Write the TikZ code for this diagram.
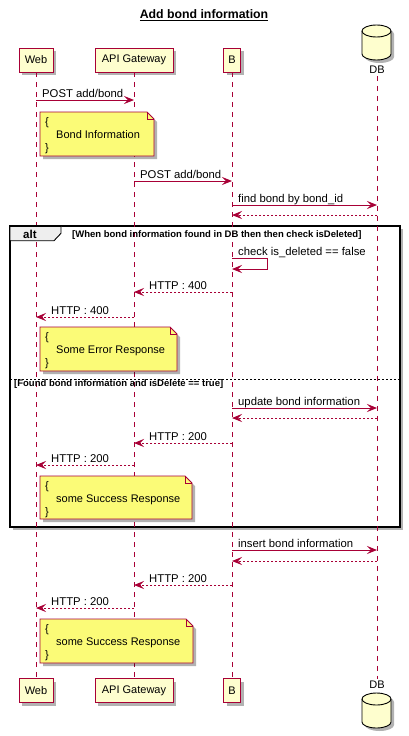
\documentclass[tikz,border=0pt]{standalone}
\usepackage{fontspec}
\setmainfont{Liberation Sans}
\usetikzlibrary{arrows.meta,shadows}
\definecolor{crim}{HTML}{A80036}
\definecolor{pfill}{HTML}{FEFECE}
\definecolor{nfill}{HTML}{FBFB77}
\definecolor{tabfill}{HTML}{EEEEEE}
\newcommand\Msg[5]{%
  \path (#2 |- 0,#4) coordinate (#1a) (#3 |- 0,#4) coordinate (#1b);
  \draw[#5] (#1a) -- (#1b);}
\newcommand\Note[6]{%
  \filldraw[notebox] (#2,#3) -- ({#4-7},#3) -- (#4,{#3+7}) -- (#4,#5) -- (#2,#5) -- cycle;
  \draw[draw=crim, line width=0.8pt] ({#4-7},#3) -- ({#4-7},{#3+7}) -- (#4,{#3+7});
  \node[lbl,anchor=base west] (#1a) at (45,{#3+13}) {\{};
  \node[lbl,anchor=base west] (#1b) at (56,{#3+26}) {#6};
  \node[lbl,anchor=base west] (#1c) at (45,{#3+39}) {\}};}
\begin{document}
\begin{tikzpicture}[x=1pt,y=-1pt,
  every node/.style={font=\fontsize{11}{13}\selectfont},
  shad/.style={drop shadow={shadow xshift=3pt,shadow yshift=-3pt,opacity=0.3,fill=black}},
  part/.style={draw=crim, fill=pfill, line width=0.9pt, minimum height=24pt, inner sep=0pt, shad},
  life/.style={draw=crim, line width=1pt, dash pattern=on 5pt off 5pt},
  msg/.style={draw=crim, line width=0.9pt, -{Stealth[length=10pt,width=8pt,inset=4pt]}},
  ret/.style={msg, dash pattern=on 2pt off 2pt},
  lbl/.style={inner sep=0pt},
  mlbl/.style={lbl, anchor=base west, font=\fontsize{11.3}{13}\selectfont},
  notebox/.style={draw=crim, fill=nfill, line width=0.8pt, shad},
  guard/.style={lbl, anchor=base west, font=\bfseries\fontsize{9.5}{11}\selectfont}]
\useasboundingbox (0,0) rectangle (408,736);
% title
\node[lbl, font=\bfseries\fontsize{12.3}{14}\selectfont, anchor=base] (title) at (204,18.5) {\underline{Add bond information}};
% alt frame
\filldraw[draw=black, fill=white, line width=1.5pt, shad] (10,226) rectangle (400,527);
% participants
\node[part, minimum width=34pt] (webT) at (36,60) {Web};
\node[part, minimum width=78pt] (apiT) at (134,60) {API Gateway};
\node[part, minimum width=17pt] (bT) at (232,60) {B};
\node[part, minimum width=34pt] (webB) at (36,690.5) {Web};
\node[part, minimum width=78pt] (apiB) at (134,690.5) {API Gateway};
\node[part, minimum width=17pt] (bB) at (232,690.5) {B};
% databases
\filldraw[draw=black, fill=pfill, line width=0.9pt, shad] (362,31) -- (362,54) arc[start angle=180,end angle=0,x radius=14.5,y radius=6] -- (391,31) arc[start angle=0,end angle=-180,x radius=14.5,y radius=6] -- cycle;
\draw[line width=0.9pt] (362,31) arc[start angle=180,end angle=0,x radius=14.5,y radius=6];
\node[lbl] (dbT) at (377,70) {DB};
\filldraw[draw=black, fill=pfill, line width=0.9pt, shad] (362,699) -- (362,722) arc[start angle=180,end angle=0,x radius=14.5,y radius=6] -- (391,699) arc[start angle=0,end angle=-180,x radius=14.5,y radius=6] -- cycle;
\draw[line width=0.9pt] (362,699) arc[start angle=180,end angle=0,x radius=14.5,y radius=6];
\node[lbl] (dbB) at (377,685) {DB};
% lifelines
\draw[life] (webT.south) -- (webB.north);
\draw[life] (apiT.south) -- (apiB.north);
\draw[life] (bT.south) -- (bB.north);
\draw[life] ([yshift=-2pt]dbT.south) -- ([yshift=2pt]dbB.north);
% alt tab and guards
\filldraw[draw=black, fill=tabfill, line width=0.9pt] (10,226) -- (61,226) -- (61,233.3) -- (54,240.7) -- (10,240.7) -- cycle;
\draw[black, line width=1.5pt] (10,226) -- (61,226);
\node[lbl, anchor=base west, font=\bfseries\fontsize{11.5}{13}\selectfont] (altlbl) at (23,238.5) {alt};
\node[guard] (g1) at (72,237.3) {[When bond information found in DB then then check isDeleted]};
\draw[black, line width=0.7pt, dash pattern=on 2pt off 2pt] (10,379) coordinate (elseA) -- (400,379) coordinate (elseB);
\node[guard] (g2) at (14,386.7) {[Found bond information and isDelete == true]};
% messages
\Msg{m1}{webT}{apiT}{100}{msg}
\node[mlbl] (m1t) at ([xshift=6pt,yshift=2.5pt]m1a) {POST add/bond};
\Note{n1}{40}{112}{154}{156}{Bond Information}
\Msg{m2}{apiT}{bT}{181}{msg}
\node[mlbl] (m2t) at ([xshift=6pt,yshift=2.5pt]m2a) {POST add/bond};
\Msg{m3}{bT}{dbT}{205}{msg}
\node[mlbl] (m3t) at ([xshift=6pt,yshift=2.5pt]m3a) {find bond by bond\_id};
\Msg{m4}{dbT}{bT}{215}{ret}
% self message
\path (bT |- 0,258) coordinate (s1a) (267,258) coordinate (s1b) (267,269) coordinate (s1c) (bT |- 0,269) coordinate (s1d);
\draw[msg] (s1a) -- (s1b) -- (s1c) -- (s1d);
\node[mlbl] (s1t) at (238,255) {check is\_deleted == false};
\Msg{m5}{bT}{apiT}{292}{ret}
\node[mlbl] (m5t) at ([xshift=15pt,yshift=2.5pt]m5b) {HTTP : 400};
\Msg{m6}{apiT}{webT}{317}{ret}
\node[mlbl] (m6t) at ([xshift=15pt,yshift=2.5pt]m6b) {HTTP : 400};
\Note{n2}{40}{327}{177}{371}{Some Error Response}
\Msg{m7}{bT}{dbT}{408}{msg}
\node[mlbl] (m7t) at ([xshift=6pt,yshift=2.5pt]m7a) {update bond information};
\Msg{m8}{dbT}{bT}{418}{ret}
\Msg{m9}{bT}{apiT}{443}{ret}
\node[mlbl] (m9t) at ([xshift=15pt,yshift=2.5pt]m9b) {HTTP : 200};
\Msg{m10}{apiT}{webT}{465}{ret}
\node[mlbl] (m10t) at ([xshift=15pt,yshift=2.5pt]m10b) {HTTP : 200};
\Note{n3}{40}{476}{192}{519}{some Success Response}
\Msg{m11}{bT}{dbT}{550}{msg}
\node[mlbl] (m11t) at ([xshift=6pt,yshift=2.5pt]m11a) {insert bond information};
\Msg{m12}{dbT}{bT}{561}{ret}
\Msg{m13}{bT}{apiT}{585}{ret}
\node[mlbl] (m13t) at ([xshift=15pt,yshift=2.5pt]m13b) {HTTP : 200};
\Msg{m14}{apiT}{webT}{608}{ret}
\node[mlbl] (m14t) at ([xshift=15pt,yshift=2.5pt]m14b) {HTTP : 200};
\Note{n4}{40}{619}{193}{663}{some Success Response}
\end{tikzpicture}
\end{document}
